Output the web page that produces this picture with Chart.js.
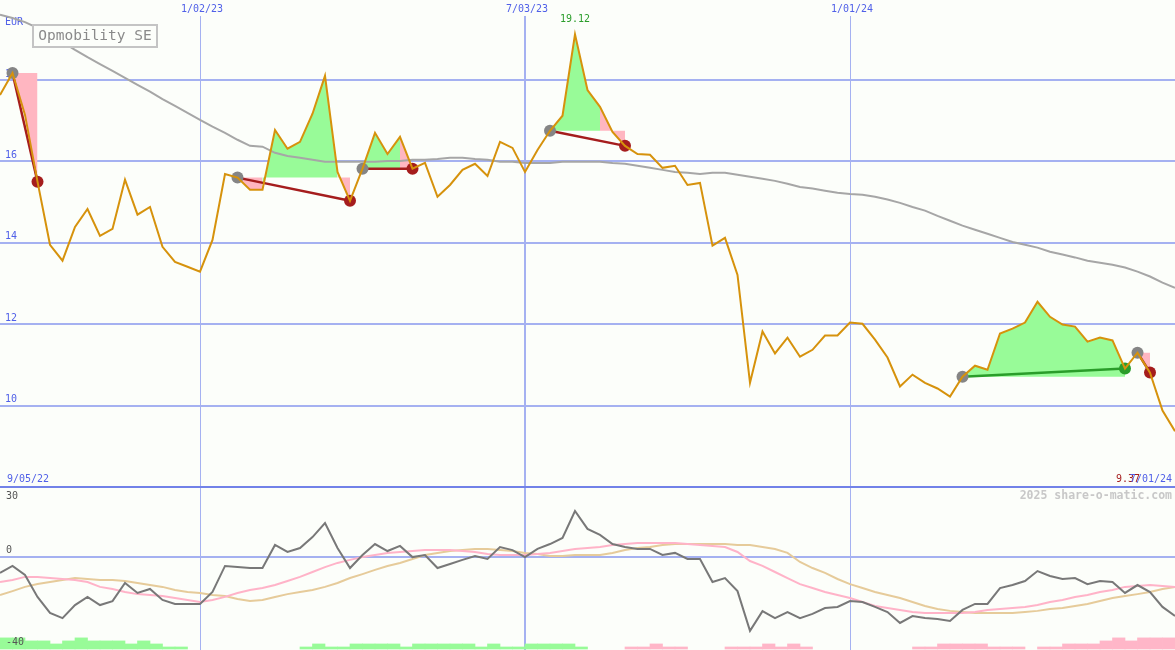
<!DOCTYPE html>
<html>
<head>
<meta charset="utf-8">
<script src="https://cdn.jsdelivr.net/npm/chart.js@4.4.1/dist/chart.umd.min.js"></script>
<style>
  html, body { margin: 0; padding: 0; background: #fcfefa; }
  #wrap { position: relative; width: 1175px; height: 650px; overflow: hidden; }
  #priceChart { position: absolute; left: 0; top: 0; }
  #oscChart { position: absolute; left: 0; top: 486px; }
</style>
</head>
<body>
<div id="wrap">
  <canvas id="priceChart" width="1175" height="487"></canvas>
  <canvas id="oscChart" width="1175" height="164"></canvas>
</div>
<script>
// weekly closes, EUR
const price = [17.63, 18.17, 17.14, 15.50, 13.95, 13.56, 14.39, 14.83, 14.17, 14.34,
  15.55, 14.69, 14.88, 13.90, 13.53, 13.41, 13.29, 14.07, 15.69, 15.60,
  15.30, 15.30, 16.77, 16.31, 16.48, 17.17, 18.10, 15.74, 15.03, 15.82,
  16.70, 16.18, 16.60, 15.82, 15.96, 15.13, 15.42, 15.79, 15.94, 15.64,
  16.48, 16.33, 15.74, 16.28, 16.75, 17.12, 19.12, 17.75, 17.34, 16.72,
  16.38, 16.18, 16.16, 15.84, 15.89, 15.42, 15.47, 13.93, 14.12, 13.21,
  10.56, 11.82, 11.28, 11.67, 11.20, 11.37, 11.72, 11.72, 12.04, 12.01,
  11.62, 11.18, 10.47, 10.76, 10.56, 10.42, 10.22, 10.71, 10.98, 10.88,
  11.77, 11.89, 12.04, 12.55, 12.18, 11.99, 11.94, 11.57, 11.67, 11.60,
  10.91, 11.30, 10.81, 9.88, 9.37];

// long moving average (grey)
const avg = [19.60, 19.52, 19.42, 19.28, 19.10, 18.93, 18.74, 18.56, 18.39, 18.22,
  18.05, 17.88, 17.71, 17.53, 17.36, 17.19, 17.02, 16.85, 16.70, 16.53,
  16.38, 16.36, 16.21, 16.13, 16.09, 16.04, 15.99, 15.99, 15.99, 15.99,
  15.99, 16.01, 16.01, 16.04, 16.04, 16.06, 16.09, 16.09, 16.06, 16.04,
  15.99, 15.99, 15.96, 15.96, 15.96, 15.99, 15.99, 15.99, 15.99, 15.96,
  15.94, 15.89, 15.84, 15.79, 15.74, 15.72, 15.69, 15.72, 15.72, 15.67,
  15.62, 15.57, 15.52, 15.45, 15.37, 15.33, 15.28, 15.23, 15.20, 15.18,
  15.13, 15.06, 14.98, 14.88, 14.79, 14.66, 14.54, 14.42, 14.32, 14.22,
  14.12, 14.02, 13.95, 13.88, 13.78, 13.71, 13.64, 13.56, 13.51, 13.46,
  13.39, 13.29, 13.17, 13.02, 12.89];

// trades: entry / exit week index
const entryIdx = [1, 19, 29, 44, 77, 91];
const exitIdx = [3, 28, 33, 50, 90, 92];
// shaded spans [from, to, trade]
const greenSpans = [[21, 27, 1], [29, 32, 2], [44, 48, 3], [77, 90, 4]];
const pinkSpans = [[1, 3, 0], [19, 21, 1], [27, 28, 1], [32, 33, 2], [48, 50, 3], [91, 92, 5]];

// lower panel
const osc = [-6.9, -3.9, -7.8, -17.2, -24.1, -26.3, -20.7, -17.2, -20.7, -19.0,
  -11.2, -15.5, -13.8, -18.5, -20.2, -20.2, -20.2, -15.1, -3.9, -4.4,
  -4.8, -4.8, 5.1, 2.1, 3.8, 8.5, 14.5, 3.8, -4.8, 0.8,
  5.5, 2.5, 4.7, -0.1, 0.8, -4.8, -3.1, -1.3, 0.4, -0.9,
  4.2, 2.9, -0.1, 3.4, 5.5, 8.1, 19.7, 12.0, 9.4, 5.5,
  4.2, 3.4, 3.4, 0.8, 1.7, -0.9, -0.9, -10.8, -9.1, -14.7,
  -31.8, -23.3, -26.3, -23.7, -26.3, -24.5, -22.0, -21.5, -19.0, -19.4,
  -21.5, -23.7, -28.4, -25.4, -26.3, -26.7, -27.5, -22.8, -20.2, -20.2,
  -13.4, -12.1, -10.4, -6.1, -8.2, -9.5, -9.1, -11.7, -10.4, -10.8,
  -15.5, -12.1, -15.1, -21.5, -25.4];
const oscPink = [-10.8, -9.9, -8.6, -8.6, -9.1, -9.5, -9.9, -10.8, -12.9, -13.8,
  -15.1, -16.0, -16.4, -16.8, -17.7, -18.5, -19.4, -18.5, -17.2, -15.5,
  -14.2, -13.4, -12.1, -10.4, -8.6, -6.5, -4.4, -2.6, -1.3, -0.1,
  0.8, 1.7, 2.1, 2.5, 2.9, 2.9, 2.9, 2.5, 2.1, 1.2,
  0.8, 0.8, 0.8, 1.2, 1.7, 2.5, 3.4, 3.8, 4.2, 5.1,
  5.5, 6.0, 6.0, 6.0, 6.0, 5.5, 5.1, 4.7, 4.2, 2.1,
  -1.8, -3.9, -6.5, -9.1, -11.7, -13.4, -15.1, -16.4, -17.7, -19.4,
  -21.1, -22.0, -22.8, -23.7, -24.1, -24.1, -24.1, -24.1, -23.7, -22.8,
  -22.4, -22.0, -21.5, -20.7, -19.4, -18.5, -17.2, -16.4, -15.1, -14.2,
  -12.9, -12.5, -12.1, -12.5, -12.9];
const oscTan = [-16.4, -14.7, -12.9, -11.7, -10.8, -9.9, -9.1, -9.5, -9.9, -9.9,
  -10.4, -11.2, -12.1, -12.9, -14.2, -15.1, -15.5, -16.4, -16.8, -18.1,
  -19.0, -18.5, -17.2, -16.0, -15.1, -14.2, -12.9, -11.2, -9.1, -7.4,
  -5.6, -3.9, -2.6, -0.9, 0.8, 1.7, 2.5, 2.9, 3.4, 3.4,
  2.9, 2.5, 1.7, 1.2, 0.4, 0.4, 0.8, 0.8, 0.8, 1.7,
  2.9, 3.8, 4.2, 5.1, 5.5, 5.5, 5.5, 5.5, 5.5, 5.1,
  5.1, 4.2, 3.4, 1.7, -2.2, -4.8, -6.9, -9.5, -11.7, -13.4,
  -15.1, -16.4, -17.7, -19.4, -21.1, -22.4, -23.2, -23.7, -24.1, -24.1,
  -24.1, -24.1, -23.7, -23.2, -22.4, -22.0, -21.1, -20.2, -19.0, -17.7,
  -16.8, -16.0, -15.1, -13.8, -12.9];
// histogram, one bar per week interval
const histUp = [-34.8, -34.8, -36.1, -36.1, -37.4, -36.1, -34.8, -36.1, -36.1, -36.1,
  -37.4, -36.1, -37.4, -38.7, -38.7, ...Array(9).fill(null),
  -38.7, -37.4, -38.7, -38.7, -37.4, -37.4, -37.4, -37.4, -38.7, -37.4,
  -37.4, -37.4, -37.4, -37.4, -38.7, -37.4, -38.7, -38.7, -37.4, -37.4,
  -37.4, -37.4, -38.7, ...Array(47).fill(null)];
const histDown = [...Array(50).fill(null),
  -38.7, -38.7, -37.4, -38.7, -38.7, null, null, null,
  -38.7, -38.7, -38.7, -37.4, -38.7, -37.4, -38.7, ...Array(8).fill(null),
  -38.7, -38.7, -37.4, -37.4, -37.4, -37.4, -38.7, -38.7, -38.7, null,
  -38.7, -38.7, -37.4, -37.4, -37.4, -36.1, -34.8, -36.1, -34.8, -34.8, -34.8];

const gridIdx = [16, 42, 68];
const gridDates = ['1/02/23', '7/03/23', '1/01/24'];
const firstDate = '9/05/22';
const lastDate = '7/01/24';
const yTicks = [10, 12, 14, 16, 18];
const oscTicks = [30, 0, -40];
const title = 'Opmobility SE';
const currency = 'EUR';
const watermark = '2025 share-o-matic.com';

const bg = '#fcfefa';
const gridBlue = '#a5b1f1';
const textBlue = '#5060e8';
const mono = '"DejaVu Sans Mono", monospace';
const weeks = price.map((_, i) => i);

function spanData(from, to) {
  return price.map((v, i) => (i >= from && i <= to ? v : null));
}
function isWin(t) {
  return price[exitIdx[t]] > price[entryIdx[t]];
}
function flatAxis(s) {
  s.paddingLeft = 0; s.paddingRight = 0; s.paddingTop = 0; s.paddingBottom = 0;
  if (!s.isHorizontal()) s.width = 0;
}

const datasets = [
  { data: price, borderColor: '#d6920c', borderWidth: 2, order: 0 },
  { data: price.map((v, i) => (entryIdx.includes(i) ? v : null)), showLine: false,
    pointRadius: 6, pointBackgroundColor: '#858585', pointBorderWidth: 0, order: 1 },
  { data: price.map((v, i) => (exitIdx.includes(i) ? v : null)), showLine: false,
    pointRadius: 6, pointBorderWidth: 0, order: 1,
    pointBackgroundColor: ctx => (isWin(exitIdx.indexOf(ctx.dataIndex)) ? '#2a9d2a' : '#a51d1d') },
  { data: avg, borderColor: '#a6a6a6', borderWidth: 2, order: 3, clip: false }
];
entryIdx.forEach((e, t) => {
  datasets.push({
    data: price.map((v, i) => (i === e || i === exitIdx[t] ? v : null)), spanGaps: true,
    borderColor: isWin(t) ? '#2a9d2a' : '#a51d1d', borderWidth: 2.5, order: 2
  });
});
greenSpans.forEach(([from, to, t]) => {
  datasets.push({ data: spanData(from, to), fill: { value: price[entryIdx[t]] },
    backgroundColor: '#98fb98', borderWidth: 0, order: 4 });
});
pinkSpans.forEach(([from, to, t]) => {
  datasets.push({ data: spanData(from, to), fill: { value: price[entryIdx[t]] },
    backgroundColor: '#ffb6c1', borderWidth: 0, order: 4 });
});

const priceText = {
  id: 'priceText',
  beforeDatasetsDraw(chart) {
    const c = chart.ctx, xs = chart.scales.x;
    c.save();
    c.font = '10px ' + mono;
    c.fillStyle = textBlue;
    c.textBaseline = 'middle';
    c.fillText(currency, 5, 22);
    c.textAlign = 'center';
    gridIdx.forEach((k, i) => c.fillText(gridDates[i], xs.getPixelForValue(k) + 2, 9));
    c.restore();
  },
  afterDatasetsDraw(chart) {
    const c = chart.ctx, xs = chart.scales.x, ys = chart.scales.y;
    c.save();
    c.textBaseline = 'middle';
    c.fillStyle = bg;
    c.fillRect(33, 25, 124, 22);
    c.strokeStyle = '#c4c4c4';
    c.lineWidth = 2;
    c.strokeRect(33, 25, 124, 22);
    c.fillStyle = '#8a8a8a';
    c.font = '14.5px ' + mono;
    c.textAlign = 'center';
    c.fillText(title, 95, 36.5);

    const hi = Math.max(...price);
    const hiIdx = price.indexOf(hi);
    c.font = '10px ' + mono;
    c.fillStyle = '#2a9d2a';
    c.fillText(hi.toFixed(2), xs.getPixelForValue(hiIdx), ys.getPixelForValue(hi) - 15);

    const yb = chart.chartArea.bottom - 8;
    c.textAlign = 'left';
    c.fillStyle = textBlue;
    c.fillText(firstDate, 7, yb);
    c.textAlign = 'right';
    c.fillStyle = '#a51d1d';
    c.fillText(price[price.length - 1].toFixed(2), 1140, yb);
    c.fillStyle = textBlue;
    c.fillText(lastDate, 1172, yb);
    c.restore();
  }
};

new Chart(document.getElementById('priceChart'), {
  type: 'line',
  data: { labels: weeks, datasets: datasets },
  options: {
    responsive: false,
    animation: false,
    events: [],
    layout: { padding: { top: 16, left: 0, right: 0, bottom: 0 }, autoPadding: false },
    elements: { line: { tension: 0 }, point: { radius: 0 } },
    plugins: { legend: { display: false }, tooltip: { enabled: false } },
    scales: {
      x: {
        type: 'category', offset: false,
        afterFit: flatAxis,
        border: { display: false },
        grid: {
          drawTicks: false,
          color: c => (gridIdx.includes(c.index) ? gridBlue : 'transparent'),
          lineWidth: c => (c.index === 42 ? 2 : 1)
        },
        ticks: { display: false, autoSkip: false }
      },
      y: {
        min: 8, max: 19.57,
        afterBuildTicks: s => { s.ticks = yTicks.map(v => ({ value: v })); },
        afterFit: flatAxis,
        border: { display: false },
        grid: { drawTicks: false, color: gridBlue, lineWidth: 2 },
        ticks: { mirror: true, padding: 5, labelOffset: -6, color: textBlue, font: { family: mono, size: 10 } }
      }
    }
  },
  plugins: [priceText]
});

const oscText = {
  id: 'oscText',
  afterDraw(chart) {
    const c = chart.ctx, ys = chart.scales.y;
    c.save();
    c.strokeStyle = '#7282e8';
    c.lineWidth = 2;
    c.beginPath();
    c.moveTo(0, 1);
    c.lineTo(chart.width, 1);
    c.stroke();
    c.font = '10px ' + mono;
    c.fillStyle = '#555555';
    c.textBaseline = 'middle';
    const shift = [9, -6, -8];
    oscTicks.forEach((v, i) => c.fillText(String(v), 6, ys.getPixelForValue(v) + shift[i]));
    c.font = 'bold 11.5px ' + mono;
    c.fillStyle = '#c8c8c8';
    c.textAlign = 'right';
    c.fillText(watermark, 1172, 10);
    c.restore();
  }
};

new Chart(document.getElementById('oscChart'), {
  type: 'line',
  data: {
    labels: weeks,
    datasets: [
      { data: osc, borderColor: '#787878', borderWidth: 2, order: 0 },
      { data: oscPink, borderColor: '#ffb3c8', borderWidth: 2, order: 1 },
      { data: oscTan, borderColor: '#e6cb9a', borderWidth: 2, order: 2 },
      { type: 'bar', xAxisID: 'xh', data: histUp, base: -40, backgroundColor: '#98fb98',
        barPercentage: 1, categoryPercentage: 1, grouped: false, borderWidth: 0, order: 3 },
      { type: 'bar', xAxisID: 'xh', data: histDown, base: -40, backgroundColor: '#ffb6c8',
        barPercentage: 1, categoryPercentage: 1, grouped: false, borderWidth: 0, order: 3 }
    ]
  },
  options: {
    responsive: false,
    animation: false,
    events: [],
    layout: { padding: { top: 1, left: 0, right: 0, bottom: 0 }, autoPadding: false },
    elements: { line: { tension: 0 }, point: { radius: 0 } },
    plugins: { legend: { display: false }, tooltip: { enabled: false } },
    scales: {
      x: {
        type: 'category', offset: false,
        afterFit: flatAxis,
        border: { display: false },
        grid: {
          drawTicks: false,
          color: c => (gridIdx.includes(c.index) ? gridBlue : 'transparent'),
          lineWidth: c => (c.index === 42 ? 2 : 1)
        },
        ticks: { display: false, autoSkip: false }
      },
      xh: {
        type: 'category', offset: true, display: false,
        labels: histUp.map((_, k) => k)
      },
      y: {
        min: -40, max: 30,
        afterBuildTicks: s => { s.ticks = oscTicks.map(v => ({ value: v })); },
        afterFit: flatAxis,
        border: { display: false },
        grid: { drawTicks: false, color: c => (c.tick.value === 0 ? gridBlue : 'transparent'), lineWidth: 2 },
        ticks: { display: false }
      }
    }
  },
  plugins: [oscText]
});
</script>
</body>
</html>
